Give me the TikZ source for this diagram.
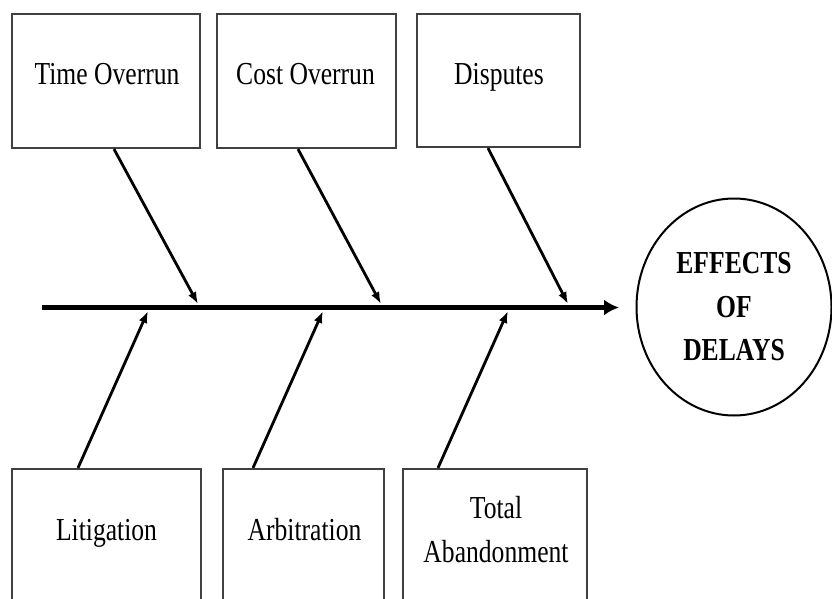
\documentclass[tikz,border=0pt]{standalone}
\usepackage{fontspec}
\setmainfont{Liberation Serif}
\usetikzlibrary{arrows.meta,shapes.geometric}
\newcommand\sqz[1]{\scalebox{0.8}[1]{#1}}
\begin{document}
\begin{tikzpicture}[x=1pt,y=-1pt,
  box/.style={draw=black!75,line width=2.2pt,inner sep=0pt},
  lbl/.style={anchor=base,inner sep=0pt,font=\fontsize{32}{44}\selectfont},
  bone/.style={line width=2.8pt,-{Latex[length=12pt,width=9pt]}},
  spine/.style={line width=5.5pt,-{Latex[length=15pt,width=16pt]}}]
\useasboundingbox (0,0) rectangle (832,599);
\clip (0,0) rectangle (832,599);

% effect boxes above the spine
\node[box,minimum width=188pt,minimum height=134pt] (t1) at (106,81) {};
\node[box,minimum width=179pt,minimum height=134pt] (t2) at (306.5,81) {};
\node[box,minimum width=163pt,minimum height=133pt] (t3) at (498.5,80.5) {};
\node[lbl] (lt1) at (107,85) {\sqz{Time Overrun}};
\node[lbl] (lt2) at (305.5,85) {\sqz{Cost Overrun}};
\node[lbl] (lt3) at (499,85) {\sqz{Disputes}};

% effect boxes below the spine
\node[box,minimum width=189pt,minimum height=142pt] (b1) at (106.5,540) {};
\node[box,minimum width=161pt,minimum height=142pt] (b2) at (303.5,540) {};
\node[box,minimum width=184pt,minimum height=142pt] (b3) at (495,540) {};
\node[lbl] (lb1) at (106.5,540) {\sqz{Litigation}};
\node[lbl] (lb2) at (304.5,540) {\sqz{Arbitration}};
\node[lbl,align=center] (lb3) at (496,562) {\sqz{Total}\\\sqz{Abandonment}};

% head of the fishbone
\node[ellipse,draw,line width=2pt,minimum width=195pt,minimum height=217pt,
      align=center,inner sep=0pt,font=\fontsize{32}{43.5}\selectfont\bfseries]
  (eff) at (734,307) {\sqz{EFFECTS}\\\sqz{OF}\\\sqz{DELAYS}};

% spine
\coordinate (tail) at (42,307.5);
\coordinate (head) at (619,307.5);
\draw[spine] (tail) -- (head);

% points where the bones meet the spine
\coordinate (s1) at (198,304);
\coordinate (s2) at (381,304);
\coordinate (s3) at (568,304);
\coordinate (u1) at (148,311);
\coordinate (u2) at (323,311);
\coordinate (u3) at (508,311);

% bones
\draw[bone] ([xshift=8pt]t1.south) -- (s1);
\draw[bone] ([xshift=-8.5pt]t2.south) -- (s2);
\draw[bone] ([xshift=-10.5pt]t3.south) -- (s3);
\draw[bone] ([xshift=-28.5pt]b1.north) -- (u1);
\draw[bone] ([xshift=-50.5pt]b2.north) -- (u2);
\draw[bone] ([xshift=-57pt]b3.north) -- (u3);
\end{tikzpicture}
\end{document}
